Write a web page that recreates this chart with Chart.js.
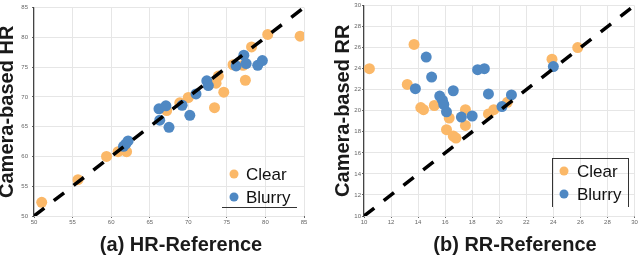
<!DOCTYPE html>
<html>
<head>
<meta charset="utf-8">
<script src="https://cdn.jsdelivr.net/npm/chart.js@4.4.1/dist/chart.umd.min.js"></script>
<style>
  html, body { margin: 0; padding: 0; background: #fff; }
  #wrap { position: relative; width: 640px; height: 256px; }
  .panel { position: absolute; top: 0; width: 320px; height: 256px; }
</style>
</head>
<body>
<div id="wrap">
  <div class="panel" style="left:0"><canvas id="hrChart" width="320" height="256"></canvas></div>
  <div class="panel" style="left:320px"><canvas id="rrChart" width="320" height="256"></canvas></div>
</div>
<script>
// --- data ---
const seriesNames = ['Clear', 'Blurry'];

// (a) heart rate: reference vs camera-based
const hrRefClear  = [51.0, 55.7, 59.4, 60.9, 62.0, 67.2, 68.9, 70.0, 73.4, 74.6, 73.6, 73.9, 75.8, 77.1, 77.4, 78.2, 80.3, 84.5];
const hrCamClear  = [52.3, 56.1, 60.0, 60.8, 60.8, 67.7, 69.0, 69.9, 68.2, 70.8, 72.3, 73.5, 75.4, 75.3, 72.8, 78.4, 80.5, 80.2];
const hrRefBlurry = [61.6, 61.9, 62.2, 66.2, 67.1, 66.3, 67.5, 69.2, 70.2, 71.0, 72.4, 72.6, 76.2, 77.2, 77.5, 79.0, 79.6];
const hrCamBlurry = [61.7, 62.1, 62.6, 68.0, 68.5, 66.1, 64.9, 68.6, 66.9, 70.5, 72.7, 71.9, 75.2, 77.0, 75.6, 75.3, 76.1];
const hrRange = [50, 85];
const hrStep = 5;

// (b) respiration rate
const rrRefClear  = [10.4, 13.2, 13.7, 14.2, 14.4, 15.2, 16.1, 16.3, 16.6, 16.8, 17.5, 17.5, 19.2, 19.6, 20.6, 23.9, 25.8];
const rrCamClear  = [24.0, 22.5, 26.3, 20.3, 20.1, 20.5, 18.2, 19.3, 17.6, 17.4, 20.1, 18.6, 19.7, 20.1, 20.8, 24.9, 26.0];
const rrRefBlurry = [13.8, 14.6, 15.0, 15.6, 15.8, 15.9, 16.1, 16.6, 17.2, 18.0, 18.4, 18.9, 19.2, 20.2, 20.9, 24.0];
const rrCamBlurry = [22.1, 25.1, 23.2, 21.4, 21.0, 20.6, 19.9, 21.9, 19.4, 19.5, 23.9, 24.0, 21.6, 20.4, 21.5, 24.2];
const rrRange = [10, 30];
const rrStep = 2;

const FONT = '"Liberation Sans", Arial, Helvetica, sans-serif';
const COLORS = { Clear: '#fbb868', Blurry: '#4f88c3' };

function toPoints(xs, ys) {
    return xs.map((x, i) => ({ x: x, y: ys[i] }));
}

// caption under the panel + hand drawn legend inside the plot
const panelDecor = {
    id: 'panelDecor',
    afterDraw(chart, args, opts) {
        const ctx = chart.ctx;
        ctx.save();
        ctx.fillStyle = '#1a1a1a';
        ctx.font = 'bold 20px ' + FONT;
        ctx.textAlign = 'center';
        ctx.textBaseline = 'middle';
        ctx.fillText(opts.caption, opts.captionX, opts.captionY);

        const lg = opts.legend;
        ctx.font = '17px ' + FONT;
        ctx.textAlign = 'left';
        chart.data.datasets.filter(d => d.inLegend).forEach((d, i) => {
            const y = lg.y + i * lg.rowGap;
            ctx.fillStyle = d.backgroundColor;
            ctx.beginPath();
            ctx.arc(lg.dotX, y, 4.5, 0, Math.PI * 2);
            ctx.fill();
            ctx.fillStyle = '#111';
            ctx.fillText(d.label, lg.textX, y + 1);
        });
        ctx.strokeStyle = '#333';
        ctx.lineWidth = 1;
        lg.lines.forEach(l => {
            ctx.beginPath();
            ctx.moveTo(l[0], l[1]);
            ctx.lineTo(l[2], l[3]);
            ctx.stroke();
        });
        ctx.restore();
    }
};

function makePanel(canvasId, cfg) {
    const scatterSet = (name, xs, ys, order) => ({
        label: name,
        data: toPoints(xs, ys),
        backgroundColor: COLORS[name],
        borderWidth: 0,
        pointRadius: 5.5,
        pointHoverRadius: 5.5,
        order: order,
        inLegend: true
    });

    const datasets = [
        scatterSet(seriesNames[0], cfg.refClear, cfg.camClear, 2),
        scatterSet(seriesNames[1], cfg.refBlurry, cfg.camBlurry, 1),
        {
            label: 'identity',
            data: toPoints(cfg.range, cfg.range),
            showLine: true,
            borderColor: '#000',
            borderWidth: 3.5,
            borderDash: [13, 12],
            pointRadius: 0,
            order: 0,
            inLegend: false
        }
    ];

    const tickFont = { family: FONT, size: 6 };

    return new Chart(document.getElementById(canvasId), {
        type: 'scatter',
        data: { datasets: datasets },
        options: {
            responsive: false,
            animation: false,
            layout: { padding: { top: 3, right: cfg.padRight, left: 0, bottom: 0 } },
            plugins: {
                legend: { display: false },
                tooltip: { enabled: false },
                panelDecor: {
                    caption: cfg.caption,
                    captionX: cfg.captionX,
                    captionY: 245,
                    legend: cfg.legend
                }
            },
            scales: {
                x: {
                    type: 'linear',
                    min: cfg.range[0],
                    max: cfg.range[1],
                    afterFit: (scale) => { scale.height = 40; },
                    border: { display: false },
                    grid: { color: '#e6e6e6', lineWidth: 1, drawTicks: true, tickLength: 2, tickColor: '#666' },
                    ticks: { stepSize: cfg.step, color: '#666', font: tickFont, padding: 1, maxRotation: 0 }
                },
                y: {
                    type: 'linear',
                    min: cfg.range[0],
                    max: cfg.range[1],
                    afterFit: (scale) => { scale.width = cfg.yWidth; },
                    border: { display: true, color: '#444', width: 1.2 },
                    grid: { color: '#e6e6e6', lineWidth: 1, drawTicks: true, tickLength: 2, tickColor: '#666' },
                    ticks: { stepSize: cfg.step, color: '#666', font: tickFont, padding: cfg.tickPad },
                    title: {
                        display: true,
                        text: cfg.yTitle,
                        color: '#1a1a1a',
                        font: { family: FONT, size: 20, weight: 'bold', lineHeight: 0.75 },
                        padding: { top: cfg.titlePad, bottom: 0 }
                    }
                }
            }
        },
        plugins: [panelDecor]
    });
}

makePanel('hrChart', {
    refClear: hrRefClear, camClear: hrCamClear,
    refBlurry: hrRefBlurry, camBlurry: hrCamBlurry,
    range: hrRange, step: hrStep,
    yTitle: 'Camera-based HR',
    caption: '(a) HR-Reference',
    captionX: 181, yWidth: 34, padRight: 16, tickPad: 4, titlePad: 0,
    legend: { dotX: 234, textX: 246, y: 174, rowGap: 23, lines: [[222, 207.5, 297, 207.5]] }
});

makePanel('rrChart', {
    refClear: rrRefClear, camClear: rrCamClear,
    refBlurry: rrRefBlurry, camBlurry: rrCamBlurry,
    range: rrRange, step: rrStep,
    yTitle: 'Camera-based RR',
    caption: '(b) RR-Reference',
    captionX: 195, yWidth: 44, padRight: 5, tickPad: 1, titlePad: 16,
    legend: {
        dotX: 244, textX: 257, y: 171, rowGap: 23,
        lines: [[232, 158.5, 308, 158.5], [232.5, 158, 232.5, 207], [308.5, 158, 308.5, 207]]
    }
});
</script>
</body>
</html>
